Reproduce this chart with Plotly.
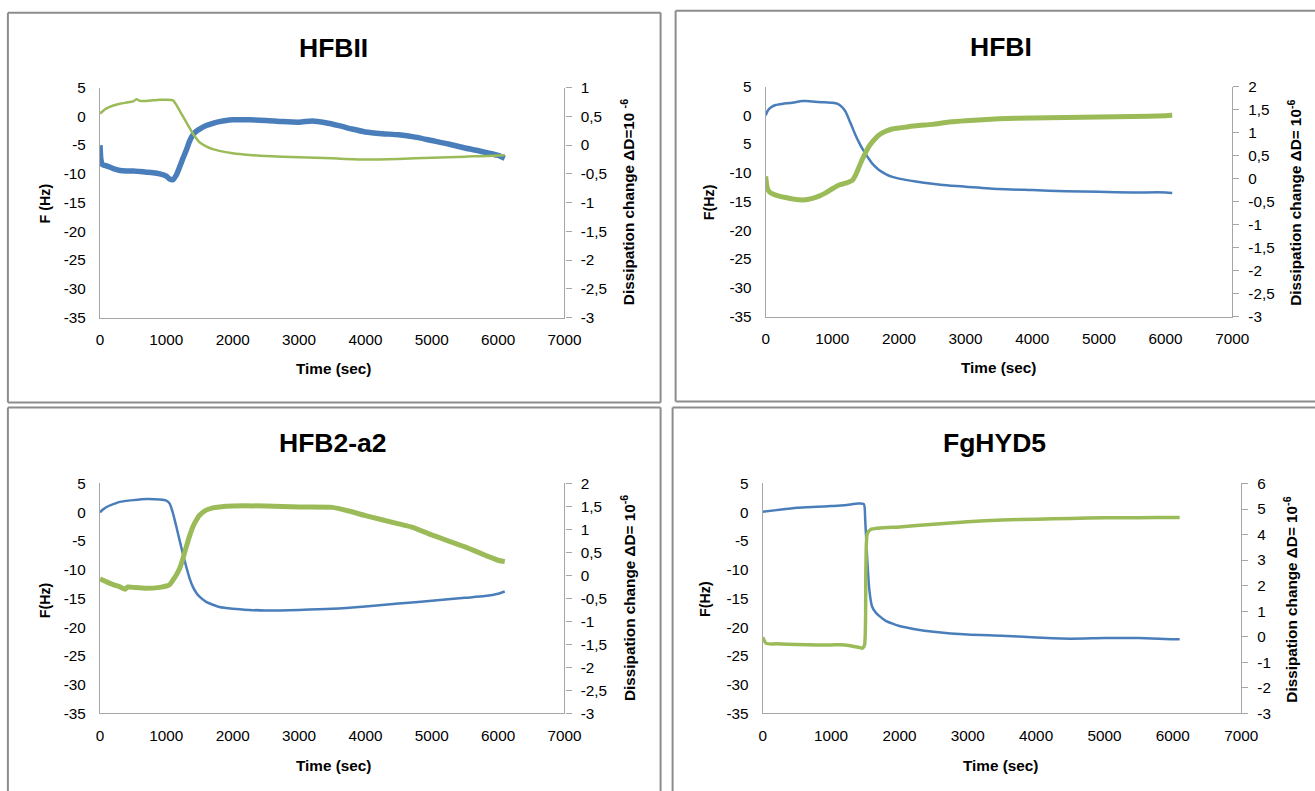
import plotly.graph_objects as go

W, H = 1315, 791

# ---------------- data ----------------
# HFBII
hfbii_t_f = [0, 15, 40, 100, 200, 300, 400, 500, 600, 700, 800, 900, 1000, 1050, 1100, 1150, 1200, 1250, 1300, 1350, 1400, 1450, 1500, 1600, 1700, 1800, 1900, 2000, 2250, 2500, 2750, 3000, 3200, 3400, 3600, 3800, 4000, 4250, 4500, 4750, 5000, 5250, 5500, 5750, 6000, 6100]
hfbii_f = [-5.0, -7.6, -8.4, -8.6, -9.1, -9.4, -9.5, -9.5, -9.6, -9.7, -9.8, -10.0, -10.4, -10.9, -11.0, -10.2, -8.8, -7.3, -5.9, -4.3, -3.2, -2.6, -2.2, -1.6, -1.2, -0.9, -0.7, -0.6, -0.6, -0.7, -0.9, -1.0, -0.8, -1.1, -1.6, -2.2, -2.7, -3.0, -3.2, -3.6, -4.2, -4.8, -5.5, -6.1, -6.8, -7.3]
hfbii_t_d = [0, 50, 100, 200, 300, 400, 500, 550, 600, 700, 800, 900, 1000, 1100, 1150, 1200, 1250, 1300, 1350, 1400, 1450, 1500, 1600, 1700, 1800, 2000, 2250, 2500, 3000, 3500, 4000, 4500, 5000, 5500, 6000, 6100]
hfbii_d = [0.55, 0.60, 0.64, 0.69, 0.72, 0.74, 0.76, 0.80, 0.77, 0.77, 0.78, 0.79, 0.79, 0.78, 0.70, 0.60, 0.50, 0.40, 0.30, 0.20, 0.12, 0.05, -0.02, -0.07, -0.10, -0.14, -0.17, -0.19, -0.21, -0.23, -0.25, -0.24, -0.22, -0.20, -0.18, -0.17]

# HFBI
hfbi_t_f = [0, 30, 80, 150, 250, 400, 550, 600, 700, 850, 1000, 1080, 1150, 1200, 1250, 1300, 1350, 1400, 1450, 1500, 1550, 1600, 1700, 1800, 1900, 2000, 2250, 2500, 2750, 3000, 3500, 4000, 4500, 5000, 5500, 6000, 6100]
hfbi_f = [0.0, 0.8, 1.4, 1.8, 2.0, 2.2, 2.5, 2.5, 2.4, 2.3, 2.2, 2.0, 1.4, 0.6, -0.7, -2.1, -3.5, -4.7, -5.8, -6.7, -7.6, -8.4, -9.5, -10.2, -10.7, -11.0, -11.5, -11.9, -12.2, -12.4, -12.8, -13.0, -13.2, -13.3, -13.4, -13.4, -13.5]
hfbi_t_d = [0, 20, 50, 100, 200, 300, 400, 500, 600, 700, 800, 900, 1000, 1100, 1200, 1300, 1350, 1400, 1450, 1500, 1550, 1600, 1650, 1700, 1800, 1900, 2000, 2250, 2500, 2750, 3000, 3500, 4000, 4500, 5000, 5500, 6000, 6100]
hfbi_d = [0.05, -0.18, -0.28, -0.33, -0.38, -0.41, -0.44, -0.46, -0.46, -0.43, -0.38, -0.31, -0.22, -0.14, -0.10, -0.04, 0.08, 0.25, 0.42, 0.57, 0.70, 0.80, 0.88, 0.95, 1.03, 1.08, 1.10, 1.15, 1.18, 1.23, 1.26, 1.30, 1.32, 1.33, 1.34, 1.35, 1.37, 1.38]

# HFB2-a2
hfb2_t_f = [0, 50, 100, 200, 300, 500, 700, 900, 1000, 1050, 1100, 1150, 1200, 1250, 1300, 1350, 1400, 1450, 1500, 1600, 1700, 1800, 2000, 2250, 2500, 3000, 3500, 4000, 4500, 5000, 5500, 5800, 6000, 6100]
hfb2_f = [0.0, 0.5, 0.9, 1.4, 1.8, 2.1, 2.3, 2.2, 2.0, 1.5, -0.2, -2.5, -4.9, -7.3, -9.5, -11.5, -13.0, -14.0, -14.7, -15.6, -16.1, -16.5, -16.8, -17.0, -17.1, -17.0, -16.8, -16.4, -15.9, -15.4, -14.9, -14.6, -14.2, -13.8]
hfb2_t_d = [0, 100, 200, 300, 380, 420, 500, 700, 900, 1000, 1050, 1100, 1150, 1200, 1250, 1300, 1350, 1400, 1450, 1500, 1600, 1700, 1800, 2000, 2500, 3000, 3500, 3750, 4000, 4500, 4700, 5000, 5500, 6000, 6100]
hfb2_d = [-0.07, -0.14, -0.20, -0.25, -0.30, -0.25, -0.26, -0.28, -0.26, -0.23, -0.20, -0.10, 0.01, 0.15, 0.37, 0.62, 0.86, 1.06, 1.20, 1.31, 1.42, 1.47, 1.49, 1.51, 1.51, 1.49, 1.48, 1.40, 1.30, 1.12, 1.05, 0.88, 0.62, 0.33, 0.30]

# FgHYD5
fghyd5_t_f = [0, 200, 500, 800, 1000, 1200, 1400, 1480, 1500, 1530, 1560, 1600, 1650, 1700, 1800, 1900, 2000, 2250, 2500, 3000, 3500, 4000, 4500, 5000, 5500, 6000, 6100]
fghyd5_f = [0.07, 0.36, 0.77, 0.94, 1.06, 1.2, 1.5, 1.4, -1.4, -8.3, -13.5, -16.4, -17.4, -18.0, -18.9, -19.4, -19.8, -20.4, -20.8, -21.3, -21.5, -21.8, -22.0, -21.9, -21.9, -22.1, -22.1]
fghyd5_t_d = [0, 50, 200, 500, 800, 1000, 1200, 1400, 1460, 1490, 1510, 1530, 1580, 2000, 2500, 3000, 3500, 4000, 4500, 5000, 5500, 6000, 6100]
fghyd5_d = [-0.02, -0.26, -0.28, -0.30, -0.32, -0.32, -0.32, -0.41, -0.45, -0.32, 2.74, 4.04, 4.20, 4.30, 4.40, 4.50, 4.57, 4.60, 4.63, 4.66, 4.66, 4.67, 4.67]

titles = ["HFBII", "HFBI", "HFB2-a2", "FgHYD5"]
x_ticks = [0, 1000, 2000, 3000, 4000, 5000, 6000, 7000]
f_ticks = [5, 0, -5, -10, -15, -20, -25, -30, -35]
f_ticktext_std = ["5", "0", "-5", "-10", "-15", "-20", "-25", "-30", "-35"]
f_ticktext_hfbi = ["5", "0", "5", "-10", "-15", "-20", "-25", "-30", "-35"]
d_ticks_a = [1, 0.5, 0, -0.5, -1, -1.5, -2, -2.5, -3]
d_ticks_b = [2, 1.5, 1, 0.5, 0, -0.5, -1, -1.5, -2, -2.5, -3]
d_ticks_c = [6, 5, 4, 3, 2, 1, 0, -1, -2, -3]
f_titles = ["F (Hz)", "F(Hz)", "F(Hz)", "F(Hz)"]
d_titles = ["Dissipation change ΔD=10 <sup>-6</sup>", "Dissipation change ΔD= 10<sup>-6</sup>",
            "Dissipation change ΔD= 10<sup>-6</sup>", "Dissipation change ΔD= 10<sup>-6</sup>"]

# ---------------- layout geometry (target picture pixels) ----------------
panels = [
    dict(px=(100, 564), py=(87, 317), title=(333, 47), xt=(333, 368), lt=(45, 203), rt=(627, 202)),
    dict(px=(765, 1231), py=(86, 316), title=(1000, 46), xt=(998, 367), lt=(708, 202), rt=(1293, 202)),
    dict(px=(100, 564), py=(483, 713), title=(333, 443), xt=(333, 765), lt=(45, 600), rt=(627, 598)),
    dict(px=(762, 1240), py=(483, 713), title=(994, 443), xt=(1000, 765), lt=(705, 599), rt=(1289, 599)),
]
border_segments = [
    (8, 12, 660, 12), (8, 12, 8, 402), (660, 12, 660, 402), (8, 402, 660, 402),
    (675, 10, 1318, 10), (675, 10, 675, 401), (675, 401, 1318, 401),
    (8, 407, 660, 407), (8, 407, 8, 795), (660, 407, 660, 795),
    (672, 407, 1318, 407), (672, 407, 672, 795),
]

# measured mapping between page pixels and the photographed picture
SX, OX = 0.983, 4.1
SY, OY = 0.979, 8.3
K = 1.0 / ((SX + SY) / 2)

FONT = "Liberation Sans Narrow, Liberation Sans, Arial, sans-serif"
BLUE = "#4A7EBB"
GREEN = "#9BBB59"
AX = "#A6A6A6"


def fx(p):
    return ((p - OX) / SX) / W


def fy(p):
    return 1 - ((p - OY) / SY) / H


series = [
    (hfbii_t_f, hfbii_f, hfbii_t_d, hfbii_d, 5.5, 2.5),
    (hfbi_t_f, hfbi_f, hfbi_t_d, hfbi_d, 2.5, 5.0),
    (hfb2_t_f, hfb2_f, hfb2_t_d, hfb2_d, 2.5, 5.0),
    (fghyd5_t_f, fghyd5_f, fghyd5_t_d, fghyd5_d, 2.5, 3.5),
]
d_ranges = [(-3, 1, d_ticks_a), (-3, 2, d_ticks_b), (-3, 2, d_ticks_b), (-3, 6, d_ticks_c)]

TICK = round(15 * K, 1)

fig = go.Figure()
layout = dict(width=W, height=H, margin=dict(l=0, r=0, t=0, b=0),
              paper_bgcolor="white", plot_bgcolor="white", showlegend=False,
              font=dict(family=FONT, size=TICK, color="#000000"))
annotations = []
shapes = []

for i, p in enumerate(panels):
    n = i + 1
    xa = "x" if n == 1 else f"x{n}"
    ya_l = f"y{2 * n - 1}" if n > 1 else "y"
    ya_r = f"y{2 * n}"
    tf, vf, td, vd, wf, wd = series[i]
    fig.add_trace(go.Scatter(x=td, y=vd, mode="lines", line=dict(color=GREEN, width=wd, shape="spline", smoothing=0.6),
                             xaxis=xa, yaxis=ya_r, hoverinfo="skip"))
    fig.add_trace(go.Scatter(x=tf, y=vf, mode="lines", line=dict(color=BLUE, width=wf, shape="spline", smoothing=0.6),
                             xaxis=xa, yaxis=ya_l, hoverinfo="skip"))
    xdom = [fx(p["px"][0]), fx(p["px"][1])]
    ydom = [fy(p["py"][1]), fy(p["py"][0])]
    xkey = "xaxis" if n == 1 else f"xaxis{n}"
    ylkey = "yaxis" if n == 1 else f"yaxis{2 * n - 1}"
    yrkey = f"yaxis{2 * n}"
    layout[xkey] = dict(domain=xdom, anchor=ya_l, range=[0, 7000], tickvals=x_ticks,
                        ticktext=[str(v) for v in x_ticks], showgrid=False, zeroline=False,
                        showline=True, linecolor=AX, linewidth=1.2, ticks="", ticklabelstandoff=8,
                        tickfont=dict(size=TICK))
    ftxt = f_ticktext_hfbi if n == 2 else f_ticktext_std
    layout[ylkey] = dict(domain=ydom, anchor=xa, range=[-35, 5], tickvals=f_ticks, ticktext=ftxt,
                         showgrid=False, zeroline=False, showline=True, linecolor=AX, linewidth=1.2,
                         ticks="", ticklabelstandoff=10, tickfont=dict(size=TICK))
    d0, d1, dt = d_ranges[i]
    layout[yrkey] = dict(domain=ydom, anchor=xa, overlaying=ya_l, side="right", range=[d0, d1],
                         tickvals=dt, ticktext=[(f"{v:g}").replace(".", ",") for v in dt],
                         showgrid=False, zeroline=False, showline=True, linecolor=AX, linewidth=1.2,
                         ticks="outside", ticklen=6, tickcolor=AX, ticklabelstandoff=6,
                         tickfont=dict(size=TICK))
    annotations.append(dict(text=f"<b>{titles[i]}</b>", x=fx(p["title"][0]), y=fy(p["title"][1]),
                            xref="paper", yref="paper", showarrow=False, xanchor="center", yanchor="middle",
                            font=dict(size=round(26 * K, 1), family=FONT)))
    annotations.append(dict(text="<b>Time (sec)</b>", x=fx(p["xt"][0]), y=fy(p["xt"][1]),
                            xref="paper", yref="paper", showarrow=False, xanchor="center", yanchor="middle",
                            font=dict(size=TICK, family=FONT)))
    annotations.append(dict(text=f"<b>{f_titles[i]}</b>", x=fx(p["lt"][0]), y=fy(p["lt"][1]),
                            xref="paper", yref="paper", showarrow=False, textangle=-90,
                            xanchor="center", yanchor="middle", font=dict(size=round(14 * K, 1), family=FONT)))
    annotations.append(dict(text=f"<b>{d_titles[i]}</b>", x=fx(p["rt"][0]), y=fy(p["rt"][1]),
                            xref="paper", yref="paper", showarrow=False, textangle=-90,
                            xanchor="center", yanchor="middle", font=dict(size=TICK, family=FONT)))

for (x0, y0, x1, y1) in border_segments:
    shapes.append(dict(type="line", xref="paper", yref="paper", x0=fx(x0), x1=fx(x1), y0=fy(y0), y1=fy(y1),
                       line=dict(color="#8C8C8C", width=2), layer="below"))

layout["annotations"] = annotations
layout["shapes"] = shapes
fig.update_layout(**layout)

post = (
    "document.documentElement.style.margin='0';document.documentElement.style.overflow='hidden';"
    "document.body.style.margin='0';document.body.style.padding='0';document.body.style.overflow='hidden';"
)
fig.write_html("out.html", config={"displayModeBar": False}, post_script=post)
